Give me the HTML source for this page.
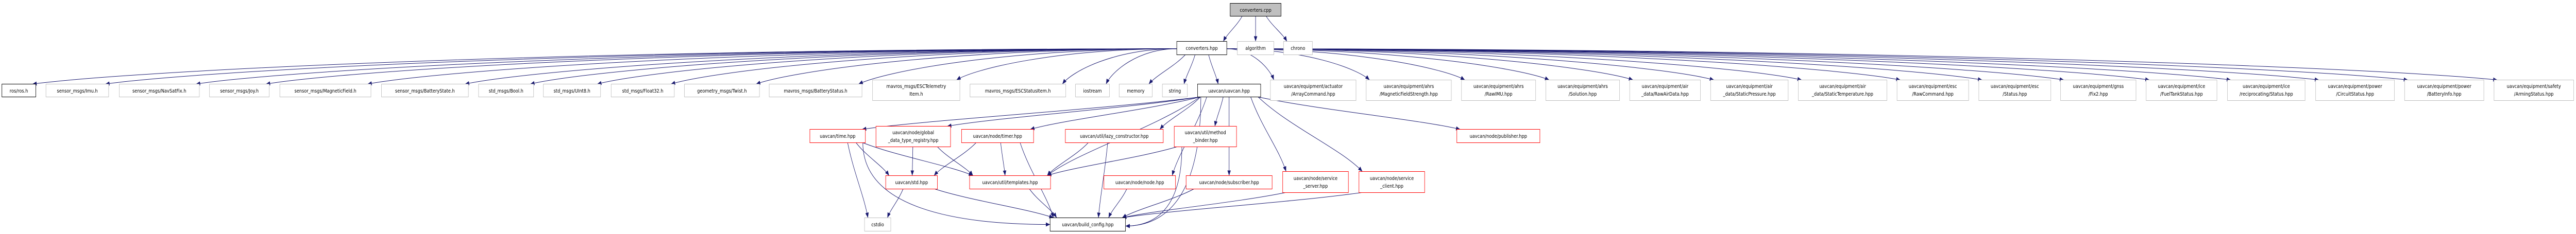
<!DOCTYPE html>
<html><head><meta charset="utf-8">
<style>
html,body{margin:0;padding:0;background:#fff;width:100%;height:100%;overflow:hidden;}
svg{display:block;width:100%;height:100%;}
text{font-family:"DejaVu Sans","Liberation Sans",sans-serif;font-size:10px;fill:#000;}
</style></head>
<body>
<svg id="g" viewBox="0 0 6080 455" preserveAspectRatio="none" xmlns="http://www.w3.org/2000/svg">
<defs>
<marker id="ah" markerWidth="10" markerHeight="8" refX="10" refY="4" orient="auto" markerUnits="userSpaceOnUse">
<path d="M0,0 L10,4 L0,8 Z" fill="#191970"/>
</marker>
</defs>
<g id="edges" fill="none" stroke="#191970" stroke-width="1"></g>
<g id="nodes">
<rect x="2903.5" y="6.5" width="120" height="25" fill="#bfbfbf" stroke="#000"/><text x="2963.5" y="23" text-anchor="middle">converters.cpp</text>
<rect x="2777.5" y="80.5" width="118" height="26" fill="#fff" stroke="#000"/><text x="2836.5" y="97" text-anchor="middle">converters.hpp</text>
<rect x="2920.5" y="80.5" width="86" height="26" fill="#fff" stroke="#bfbfbf"/><text x="2963.5" y="97" text-anchor="middle">algorithm</text>
<rect x="3029.5" y="80.5" width="68" height="26" fill="#fff" stroke="#bfbfbf"/><text x="3063.5" y="97" text-anchor="middle">chrono</text>

<rect x="4.5" y="163.5" width="80" height="25" fill="#fff" stroke="#000"/><text x="44.5" y="180" text-anchor="middle">ros/ros.h</text>
<rect x="108.5" y="163.5" width="148" height="25" fill="#fff" stroke="#bfbfbf"/><text x="182.5" y="180" text-anchor="middle">sensor_msgs/Imu.h</text>
<rect x="281.5" y="163.5" width="189" height="25" fill="#fff" stroke="#bfbfbf"/><text x="376" y="180" text-anchor="middle">sensor_msgs/NavSatFix.h</text>
<rect x="494.5" y="163.5" width="141" height="25" fill="#fff" stroke="#bfbfbf"/><text x="565" y="180" text-anchor="middle">sensor_msgs/Joy.h</text>
<rect x="660.5" y="163.5" width="215" height="25" fill="#fff" stroke="#bfbfbf"/><text x="768" y="180" text-anchor="middle">sensor_msgs/MagneticField.h</text>
<rect x="900.5" y="163.5" width="205" height="25" fill="#fff" stroke="#bfbfbf"/><text x="1003" y="180" text-anchor="middle">sensor_msgs/BatteryState.h</text>
<rect x="1129.5" y="163.5" width="130" height="25" fill="#fff" stroke="#bfbfbf"/><text x="1194.5" y="180" text-anchor="middle">std_msgs/Bool.h</text>
<rect x="1282.5" y="163.5" width="135" height="25" fill="#fff" stroke="#bfbfbf"/><text x="1350" y="180" text-anchor="middle">std_msgs/UInt8.h</text>
<rect x="1442.5" y="163.5" width="149" height="25" fill="#fff" stroke="#bfbfbf"/><text x="1517" y="180" text-anchor="middle">std_msgs/Float32.h</text>
<rect x="1615.5" y="163.5" width="177" height="25" fill="#fff" stroke="#bfbfbf"/><text x="1704" y="180" text-anchor="middle">geometry_msgs/Twist.h</text>
<rect x="1815.5" y="163.5" width="219" height="25" fill="#fff" stroke="#bfbfbf"/><text x="1925" y="180" text-anchor="middle">mavros_msgs/BatteryStatus.h</text>
<rect x="2059.5" y="155.5" width="206" height="40" fill="#fff" stroke="#bfbfbf"/><text x="2162.5" y="171" text-anchor="middle">mavros_msgs/ESCTelemetry</text><text x="2162.5" y="186" text-anchor="middle">Item.h</text>
<rect x="2289.5" y="163.5" width="226" height="25" fill="#fff" stroke="#bfbfbf"/><text x="2402.5" y="180" text-anchor="middle">mavros_msgs/ESCStatusItem.h</text>
<rect x="2538.5" y="163.5" width="80" height="25" fill="#fff" stroke="#bfbfbf"/><text x="2578.5" y="180" text-anchor="middle">iostream</text>
<rect x="2641.5" y="163.5" width="78" height="25" fill="#fff" stroke="#bfbfbf"/><text x="2680.5" y="180" text-anchor="middle">memory</text>
<rect x="2743.5" y="163.5" width="59" height="25" fill="#fff" stroke="#bfbfbf"/><text x="2773" y="180" text-anchor="middle">string</text>
<rect x="2826.5" y="163.5" width="149" height="25" fill="#fff" stroke="#000"/><text x="2901" y="180" text-anchor="middle">uavcan/uavcan.hpp</text>

<rect x="2998.5" y="155.5" width="202" height="40" fill="#fff" stroke="#bfbfbf"/><text x="3099.5" y="171" text-anchor="middle">uavcan/equipment/actuator</text><text x="3099.5" y="186" text-anchor="middle">/ArrayCommand.hpp</text>
<rect x="3224.5" y="155.5" width="201" height="40" fill="#fff" stroke="#bfbfbf"/><text x="3325" y="171" text-anchor="middle">uavcan/equipment/ahrs</text><text x="3325" y="186" text-anchor="middle">/MagneticFieldStrength.hpp</text>
<rect x="3449.5" y="155.5" width="175" height="40" fill="#fff" stroke="#bfbfbf"/><text x="3537" y="171" text-anchor="middle">uavcan/equipment/ahrs</text><text x="3537" y="186" text-anchor="middle">/RawIMU.hpp</text>
<rect x="3648.5" y="155.5" width="174" height="40" fill="#fff" stroke="#bfbfbf"/><text x="3735.5" y="171" text-anchor="middle">uavcan/equipment/ahrs</text><text x="3735.5" y="186" text-anchor="middle">/Solution.hpp</text>
<rect x="3846.5" y="155.5" width="167" height="40" fill="#fff" stroke="#bfbfbf"/><text x="3930" y="171" text-anchor="middle">uavcan/equipment/air</text><text x="3930" y="186" text-anchor="middle">_data/RawAirData.hpp</text>
<rect x="4037.5" y="155.5" width="183" height="40" fill="#fff" stroke="#bfbfbf"/><text x="4129" y="171" text-anchor="middle">uavcan/equipment/air</text><text x="4129" y="186" text-anchor="middle">_data/StaticPressure.hpp</text>
<rect x="4244.5" y="155.5" width="209" height="40" fill="#fff" stroke="#bfbfbf"/><text x="4349" y="171" text-anchor="middle">uavcan/equipment/air</text><text x="4349" y="186" text-anchor="middle">_data/StaticTemperature.hpp</text>
<rect x="4477.5" y="155.5" width="169" height="40" fill="#fff" stroke="#bfbfbf"/><text x="4562" y="171" text-anchor="middle">uavcan/equipment/esc</text><text x="4562" y="186" text-anchor="middle">/RawCommand.hpp</text>
<rect x="4670.5" y="155.5" width="170" height="40" fill="#fff" stroke="#bfbfbf"/><text x="4755.5" y="171" text-anchor="middle">uavcan/equipment/esc</text><text x="4755.5" y="186" text-anchor="middle">/Status.hpp</text>
<rect x="4863.5" y="155.5" width="178" height="40" fill="#fff" stroke="#bfbfbf"/><text x="4952.5" y="171" text-anchor="middle">uavcan/equipment/gnss</text><text x="4952.5" y="186" text-anchor="middle">/Fix2.hpp</text>
<rect x="5065.5" y="155.5" width="167" height="40" fill="#fff" stroke="#bfbfbf"/><text x="5149" y="171" text-anchor="middle">uavcan/equipment/ice</text><text x="5149" y="186" text-anchor="middle">/FuelTankStatus.hpp</text>
<rect x="5257.5" y="155.5" width="183" height="40" fill="#fff" stroke="#bfbfbf"/><text x="5349" y="171" text-anchor="middle">uavcan/equipment/ice</text><text x="5349" y="186" text-anchor="middle">/reciprocating/Status.hpp</text>
<rect x="5465.5" y="155.5" width="186" height="40" fill="#fff" stroke="#bfbfbf"/><text x="5558.5" y="171" text-anchor="middle">uavcan/equipment/power</text><text x="5558.5" y="186" text-anchor="middle">/CircuitStatus.hpp</text>
<rect x="5675.5" y="155.5" width="187" height="40" fill="#fff" stroke="#bfbfbf"/><text x="5769" y="171" text-anchor="middle">uavcan/equipment/power</text><text x="5769" y="186" text-anchor="middle">/BatteryInfo.hpp</text>
<rect x="5886.5" y="155.5" width="188" height="40" fill="#fff" stroke="#bfbfbf"/><text x="5980.5" y="171" text-anchor="middle">uavcan/equipment/safety</text><text x="5980.5" y="186" text-anchor="middle">/ArmingStatus.hpp</text>

<rect x="1911.5" y="251.5" width="131" height="26" fill="#fff" stroke="#ff0000"/><text x="1977" y="268" text-anchor="middle">uavcan/time.hpp</text>
<rect x="2067.5" y="245.5" width="176" height="40" fill="#fff" stroke="#ff0000"/><text x="2155.5" y="261" text-anchor="middle">uavcan/node/global</text><text x="2155.5" y="276" text-anchor="middle">_data_type_registry.hpp</text>
<rect x="2269.5" y="251.5" width="170" height="26" fill="#fff" stroke="#ff0000"/><text x="2354.5" y="268" text-anchor="middle">uavcan/node/timer.hpp</text>
<rect x="2514.5" y="251.5" width="231" height="26" fill="#fff" stroke="#ff0000"/><text x="2630" y="268" text-anchor="middle">uavcan/util/lazy_constructor.hpp</text>
<rect x="2771.5" y="245.5" width="147" height="40" fill="#fff" stroke="#ff0000"/><text x="2845" y="261" text-anchor="middle">uavcan/util/method</text><text x="2845" y="276" text-anchor="middle">_binder.hpp</text>
<rect x="3438.5" y="251.5" width="196" height="26" fill="#fff" stroke="#ff0000"/><text x="3536.5" y="268" text-anchor="middle">uavcan/node/publisher.hpp</text>

<rect x="2090.5" y="341.5" width="122" height="26" fill="#fff" stroke="#ff0000"/><text x="2151.5" y="358" text-anchor="middle">uavcan/std.hpp</text>
<rect x="2288.5" y="341.5" width="191" height="26" fill="#fff" stroke="#ff0000"/><text x="2384" y="358" text-anchor="middle">uavcan/util/templates.hpp</text>
<rect x="2605.5" y="341.5" width="169" height="26" fill="#fff" stroke="#ff0000"/><text x="2690" y="358" text-anchor="middle">uavcan/node/node.hpp</text>
<rect x="2799.5" y="341.5" width="203" height="26" fill="#fff" stroke="#ff0000"/><text x="2901" y="358" text-anchor="middle">uavcan/node/subscriber.hpp</text>
<rect x="3027.5" y="333.5" width="155" height="41" fill="#fff" stroke="#ff0000"/><text x="3105" y="350" text-anchor="middle">uavcan/node/service</text><text x="3105" y="365" text-anchor="middle">_server.hpp</text>
<rect x="3207.5" y="333.5" width="155" height="41" fill="#fff" stroke="#ff0000"/><text x="3285" y="350" text-anchor="middle">uavcan/node/service</text><text x="3285" y="365" text-anchor="middle">_client.hpp</text>

<rect x="2040.5" y="423.5" width="62" height="26" fill="#fff" stroke="#bfbfbf"/><text x="2071.5" y="440" text-anchor="middle">cstdio</text>
<rect x="2478.5" y="423.5" width="178" height="26" fill="#fff" stroke="#000"/><text x="2567.5" y="440" text-anchor="middle">uavcan/build_config.hpp</text>
</g>
</svg>
<script>
(function(){
var svg=document.getElementById('g');
var N={};
var rs=svg.querySelectorAll('#nodes rect');
var names=['cpp','chpp','alg','chr','ros','imu','nav','joy','mag','bat','bool','u8','f32','tw','mbs','esct','escs','ios','mem','str','uav','act','mfs','rimu','sol','rad','sp','st','rc','es','fix','fuel','rec','circ','binfo','arm','time','glob','timer','lazy','mb','pub','std','tmpl','node','sub','srv','cli','cstdio','bc'];
for(var i=0;i<rs.length;i++){var r=rs[i];N[names[i]]={x:+r.getAttribute('x'),y:+r.getAttribute('y'),w:+r.getAttribute('width'),h:+r.getAttribute('height')};}
var E=[['cpp','chpp'],['cpp','alg'],['cpp','chr']];
['ros','imu','nav','joy','mag','bat','bool','u8','f32','tw','mbs','esct','escs','ios','mem','str','uav','act','mfs','rimu','sol','rad','sp','st','rc','es','fix','fuel','rec','circ','binfo','arm'].forEach(function(t){E.push(['chpp',t]);});
['time','glob','timer','tmpl','lazy','mb','node','sub','srv','cli','pub','bc'].forEach(function(t){E.push(['uav',t]);});
E=E.concat([['time','std'],['time','tmpl'],['time','cstdio'],['time','bc'],['glob','std'],['glob','tmpl'],['timer','std'],['timer','tmpl'],['timer','bc'],['lazy','tmpl'],['lazy','bc'],['mb','tmpl'],['mb','bc'],['std','cstdio'],['std','bc'],['tmpl','bc'],['node','bc'],['sub','bc'],['srv','bc'],['cli','bc']]);
var G=document.getElementById('edges');
function cl(v,a,b){return Math.max(a,Math.min(b,v));}
E.forEach(function(e){
 var s=N[e[0]],t=N[e[1]];
 var scx=s.x+s.w/2,tcx=t.x+t.w/2;
 var sx,sy,tx,ty,d;
 tx=tcx+cl((scx-tcx)*0.4,-t.w/2+8,t.w/2-8); ty=t.y;
 if(e[1]==='bc' && (t.y-s.y)>100 && Math.abs(scx-tcx)>250){
   sx=cl(scx+(tcx-scx)*0.2,s.x+6,s.x+s.w-6); sy=s.y+s.h;
   if(scx<tcx){tx=t.x;ty=t.y+t.h/2;} else {tx=t.x+t.w;ty=t.y+t.h/2+3;}
   d='M'+sx+','+sy+' C'+sx+','+(sy+(ty-sy)*0.8)+' '+(tx+(sx-tx)*0.5)+','+ty+' '+tx+','+ty;
 } else if(s.w<Math.abs(tcx-scx)-60 && e[0]==='chpp'){
   if(tcx<scx){sx=s.x;}else{sx=s.x+s.w;}
   sy=s.y+s.h*0.55;
   d='M'+sx+','+sy+' C'+(sx+(tx-sx)*0.55)+','+sy+' '+(tx-(tx-sx)*0.08)+','+(ty-(ty-sy)*0.35)+' '+tx+','+ty;
 } else {
   sx=cl(scx+(tcx-scx)*0.25,s.x+6,s.x+s.w-6); sy=s.y+s.h;
   d='M'+sx+','+sy+' C'+(sx+(tx-sx)*0.3)+','+(sy+(ty-sy)*0.4)+' '+(tx-(tx-sx)*0.2)+','+(ty-(ty-sy)*0.3)+' '+tx+','+ty;
 }
 var p=document.createElementNS('http://www.w3.org/2000/svg','path');
 p.setAttribute('d',d);p.setAttribute('marker-end','url(#ah)');
 G.appendChild(p);
});
})();
</script>
</body></html>
